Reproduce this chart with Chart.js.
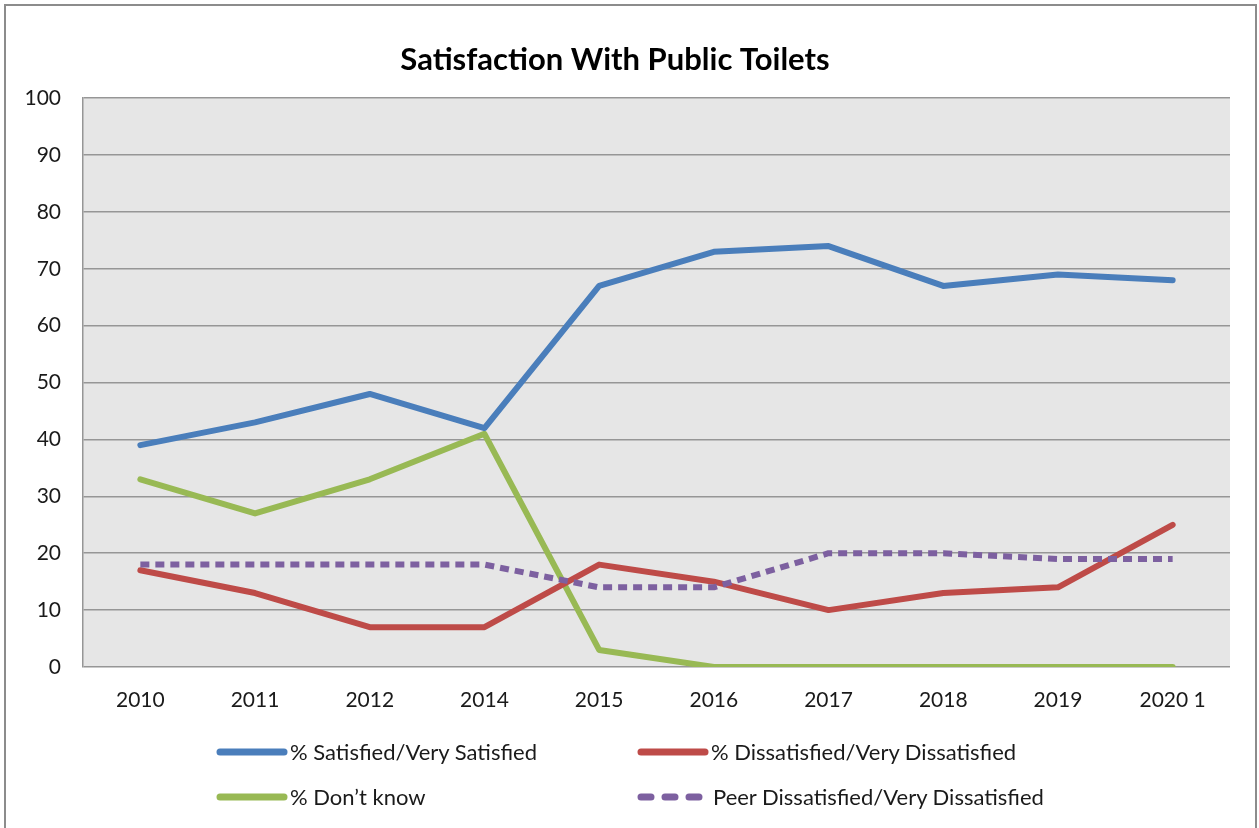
<!DOCTYPE html>
<html>
<head>
<meta charset="utf-8">
<script src="https://cdn.jsdelivr.net/npm/chart.js@4.4.1/dist/chart.umd.min.js"></script>
<style>
  body { margin: 0; background: #fff; font-family: Lato, "Open Sans", sans-serif; }
  #wrap { position: relative; width: 1259px; height: 828px; overflow: hidden; }
  #frame { position: absolute; left: 4px; top: 4px; width: 1253px; height: 840px; border: 2px solid #8c8c8c; box-sizing: border-box; }
  canvas { position: absolute; left: 0; top: 0; }
  .leg { position: absolute; font-size: 22px; color: #1a1a1a; height: 30px; line-height: 30px; white-space: nowrap; }
  .leg svg { position: absolute; top: 11px; }
  .leg span { position: absolute; top: 0; }
</style>
</head>
<body>
<div id="wrap">
  <div id="frame"></div>
  <canvas id="chart" width="1259" height="828"></canvas>
  <div id="legend"></div>
</div>
<script>
// Chart data
var years = ['2010', '2011', '2012', '2014', '2015', '2016', '2017', '2018', '2019', '2020 1'];
var satisfied = [39, 43, 48, 42, 67, 73, 74, 67, 69, 68];
var dissatisfied = [17, 13, 7, 7, 18, 15, 10, 13, 14, 25];
var dontKnow = [33, 27, 33, 41, 3, 0, 0, 0, 0, 0];
var peerDissatisfied = [18, 18, 18, 18, 14, 14, 20, 20, 19, 19];

var seriesNames = ['% Satisfied/Very Satisfied', '% Dissatisfied/Very Dissatisfied', '% Don\u2019t know', 'Peer Dissatisfied/Very Dissatisfied'];
var seriesColors = ['#4a7ebb', '#be4b48', '#98b954', '#7d60a0'];

// grey plot background
var plotBackground = {
    id: 'plotBackground',
    beforeDraw: function(chart) {
        var a = chart.chartArea;
        var ctx = chart.ctx;
        ctx.save();
        ctx.fillStyle = '#e6e6e6';
        ctx.fillRect(a.left, a.top, a.right - a.left, a.bottom - a.top);
        ctx.restore();
    }
};

function lineSet(i, data, dash) {
    return {
        label: seriesNames[i],
        data: data,
        borderColor: seriesColors[i],
        backgroundColor: seriesColors[i],
        borderWidth: 6,
        borderDash: dash || [],
        borderCapStyle: dash ? 'butt' : 'round',
        borderJoinStyle: 'round',
        pointRadius: 0,
        tension: 0
    };
}

var ctx = document.getElementById('chart').getContext('2d');
var chart = new Chart(ctx, {
    type: 'line',
    data: {
        labels: years,
        datasets: [
            lineSet(3, peerDissatisfied, [9, 6]),
            lineSet(0, satisfied),
            lineSet(1, dissatisfied),
            lineSet(2, dontKnow)
        ]
    },
    options: {
        responsive: false,
        animation: false,
        layout: { padding: { top: 0, right: 29, left: 0, bottom: 0 } },
        plugins: {
            legend: { display: false },
            tooltip: { enabled: false },
            title: {
                display: true,
                text: 'Satisfaction With Public Toilets',
                color: '#000',
                font: { family: 'Lato', size: 31, weight: 'bold', lineHeight: 1.2 },
                padding: { top: 41, bottom: 20 }
            }
        },
        scales: {
            x: {
                offset: true,
                grid: { display: false, drawTicks: false },
                border: { display: false },
                ticks: { color: '#1a1a1a', font: { family: 'Lato', size: 21 }, padding: 21, maxRotation: 0 },
                afterFit: function(scale) { scale.height = 161; }
            },
            y: {
                min: 0,
                max: 100,
                grid: { color: '#969696', lineWidth: 1.5, drawTicks: false },
                border: { display: true, color: '#969696', width: 1.5 },
                ticks: { stepSize: 10, color: '#1a1a1a', font: { family: 'Lato', size: 21 }, padding: 22 },
                afterFit: function(scale) { scale.width = 83; }
            }
        }
    },
    plugins: [plotBackground]
});

// legend, 2 x 2 grid under the chart
var legendSpots = [
    { i: 0, left: 216, mid: 752 },
    { i: 1, left: 637, mid: 752 },
    { i: 2, left: 216, mid: 797 },
    { i: 3, left: 637, mid: 797 }
];
var legendEl = document.getElementById('legend');
legendSpots.forEach(function(s) {
    var item = document.createElement('div');
    item.className = 'leg';
    item.style.left = s.left + 'px';
    item.style.top = (s.mid - 15) + 'px';
    var dash = s.i === 3 ? ' stroke-dasharray="10 14"' : '';
    item.innerHTML = '<svg width="72" height="8"><line x1="4" y1="4" x2="' + (s.i === 3 ? 70 : 68) + '" y2="4" stroke="' +
        seriesColors[s.i] + '" stroke-width="7" stroke-linecap="round"' + dash + '/></svg>' +
        '<span style="left:' + (s.i === 3 ? 76 : 74) + 'px">' + seriesNames[s.i] + '</span>';
    legendEl.appendChild(item);
});
</script>
</body>
</html>
